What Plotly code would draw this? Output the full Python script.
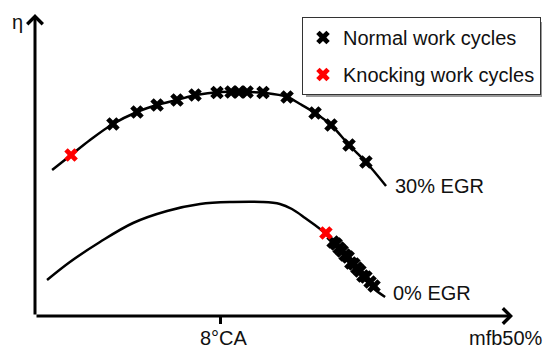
import plotly.graph_objects as go

# mfb50% position (°CA) and relative efficiency for the two EGR rates
egr30_curve_x = [0.74, 1.56, 2.38, 3.37, 4.41, 5.28, 6.14, 6.96, 8.0, 9.17, 9.95, 10.9, 11.46, 12.11, 12.8, 13.58, 14.31, 15.18]
egr30_curve_y = [14.6, 16.1, 17.6, 19.2, 20.4, 21.1, 21.6, 22.1, 22.4, 22.4, 22.3, 21.9, 21.2, 20.3, 19.1, 17.1, 15.4, 13.0]

egr0_curve_x = [0.52, 1.51, 2.81, 4.24, 5.71, 7.14, 8.56, 9.82, 10.59, 11.11, 11.68, 12.58, 13.62, 14.57, 15.14]
egr0_curve_y = [3.6, 5.4, 7.4, 9.3, 10.5, 11.2, 11.4, 11.4, 11.2, 10.7, 9.8, 8.2, 5.4, 2.9, 1.9]

# individual work cycles, 30% EGR
egr30_normal_x = [3.37, 4.41, 5.28, 6.14, 6.92, 7.87, 8.48, 8.82, 9.17, 9.86, 10.9, 12.11, 12.8, 13.58, 14.31]
egr30_normal_y = [19.2, 20.4, 21.1, 21.6, 22.1, 22.35, 22.4, 22.4, 22.4, 22.35, 21.9, 20.3, 19.1, 17.1, 15.4]
egr30_knock_x = [1.56]
egr30_knock_y = [16.1]

# individual work cycles, 0% EGR
egr0_normal_x = [12.89, 13.02, 13.15, 13.28, 13.41, 13.54, 13.66, 13.79, 13.92, 14.05, 14.18, 14.31, 14.49, 14.66]
egr0_normal_y = [7.4, 7.2, 6.8, 6.5, 6.1, 5.9, 5.3, 5.2, 4.8, 4.5, 4.0, 3.9, 3.4, 3.0]
egr0_knock_x = [12.58]
egr0_knock_y = [8.3]

tick_vals = [8]
tick_text = ["8°CA"]

X_MAX = 20.67
Y_MAX = 30.2
FONT = "Liberation Sans, Arial, sans-serif"
TXT = "#111111"

L, R, T, B = 35, 32, 14, 33
W, H = 545, 349
pw, ph = W - L - R, H - T - B


def px_to_paper(px, py):
    """Convert a container pixel position to plot-area paper fractions."""
    return (px - L) / pw, (H - py - B) / ph


fig = go.Figure()

line_style = dict(color="black", width=2.5, shape="spline", smoothing=1.0)
fig.add_trace(go.Scatter(x=egr30_curve_x, y=egr30_curve_y, mode="lines",
                         line=line_style, showlegend=False, hoverinfo="skip"))
fig.add_trace(go.Scatter(x=egr0_curve_x, y=egr0_curve_y, mode="lines",
                         line=line_style, showlegend=False, hoverinfo="skip"))

marker_normal = dict(symbol="x", size=12, color="black", line=dict(width=0))
marker_knock = dict(symbol="x", size=12, color="#ff0000", line=dict(width=0))

fig.add_trace(go.Scatter(x=egr30_normal_x, y=egr30_normal_y, mode="markers",
                         marker=marker_normal, name="Normal work cycles",
                         legendgroup="normal", showlegend=True))
fig.add_trace(go.Scatter(x=egr0_normal_x, y=egr0_normal_y, mode="markers",
                         marker=marker_normal, name="Normal work cycles",
                         legendgroup="normal", showlegend=False))
fig.add_trace(go.Scatter(x=egr30_knock_x, y=egr30_knock_y, mode="markers",
                         marker=marker_knock, name="Knocking work cycles",
                         legendgroup="knock", showlegend=True))
fig.add_trace(go.Scatter(x=egr0_knock_x, y=egr0_knock_y, mode="markers",
                         marker=marker_knock, name="Knocking work cycles",
                         legendgroup="knock", showlegend=False))

eta_x, eta_y = px_to_paper(17, 22)
mfb_x, mfb_y = px_to_paper(545, 338)
leg_x, leg_y = px_to_paper(302, 17)
tick_lbl_y = px_to_paper(0, 338)[1]
shadow_x0, shadow_y0 = px_to_paper(306, 97)
shadow_x1, shadow_y1 = px_to_paper(542, 22)

annotations = [
    # axes drawn as arrows from the origin
    dict(x=X_MAX, y=0, ax=0, ay=0, xref="x", yref="y", axref="x", ayref="y",
         text="", showarrow=True, arrowhead=4, arrowsize=1, arrowwidth=3, arrowcolor="black"),
    dict(x=0, y=Y_MAX, ax=0, ay=0, xref="x", yref="y", axref="x", ayref="y",
         text="", showarrow=True, arrowhead=4, arrowsize=1, arrowwidth=3, arrowcolor="black"),
    # curve labels
    dict(x=egr30_curve_x[-1], y=egr30_curve_y[-1], text="30% EGR", showarrow=False,
         xanchor="left", yanchor="middle", xshift=7, yshift=0,
         font=dict(family=FONT, size=20, color=TXT)),
    dict(x=egr0_curve_x[-1], y=egr0_curve_y[-1], text="0% EGR", showarrow=False,
         xanchor="left", yanchor="middle", xshift=6, yshift=4,
         font=dict(family=FONT, size=20, color=TXT)),
    # axis titles
    dict(x=eta_x, y=eta_y, xref="paper", yref="paper", text="η", showarrow=False,
         xanchor="center", yanchor="middle", font=dict(family=FONT, size=20, color=TXT)),
    dict(x=mfb_x, y=mfb_y, xref="paper", yref="paper", text="mfb50%", showarrow=False,
         xanchor="right", yanchor="middle", font=dict(family=FONT, size=20, color=TXT)),
]
# tick label under the single x tick
for v, t in zip(tick_vals, tick_text):
    annotations.append(dict(x=v, y=tick_lbl_y, xref="x", yref="paper", text=t,
                            showarrow=False, xanchor="center", yanchor="middle", xshift=4,
                            font=dict(family=FONT, size=20, color=TXT)))

fig.update_layout(
    width=W, height=H,
    margin=dict(l=L, r=R, t=T, b=B, pad=0, autoexpand=False),
    paper_bgcolor="white", plot_bgcolor="rgba(0,0,0,0)",
    font=dict(family=FONT, size=20, color=TXT),
    xaxis=dict(range=[0, X_MAX], showgrid=False, zeroline=False, showline=False,
               tickvals=tick_vals, ticks="outside", ticklen=7, showticklabels=False,
               tickwidth=2.5, tickcolor="black"),
    yaxis=dict(range=[0, Y_MAX], showgrid=False, zeroline=False, showline=False,
               showticklabels=False, ticks=""),
    legend=dict(x=leg_x, y=leg_y, xanchor="left", yanchor="top", bgcolor="white",
                bordercolor="#333333", borderwidth=1,
                font=dict(family=FONT, size=20, color=TXT), tracegroupgap=8),
    annotations=annotations,
    showlegend=True,
)

# drop shadow behind the legend box (axis-domain referenced)
fig.add_shape(type="rect", xref="x domain", yref="y domain",
              x0=shadow_x0, y0=shadow_y0, x1=shadow_x1, y1=shadow_y1,
              fillcolor="#9a9a9a", line=dict(width=0), layer="below")

fig.write_html("out.html")
